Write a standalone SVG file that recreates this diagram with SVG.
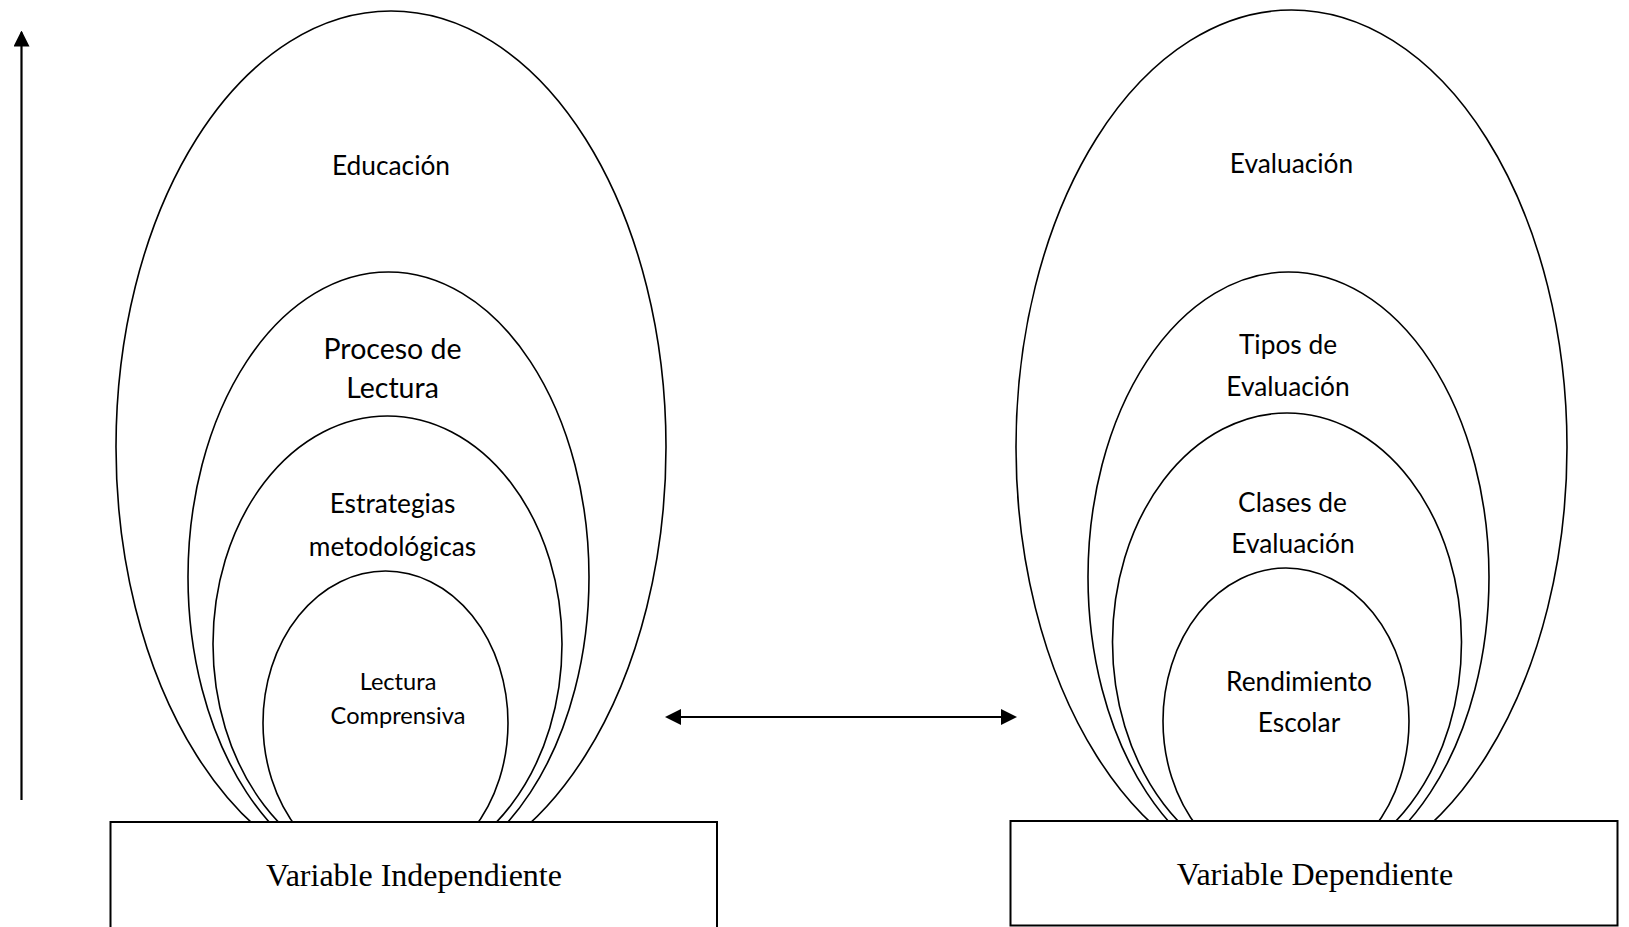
<svg xmlns="http://www.w3.org/2000/svg" width="1629" height="927" viewBox="0 0 1629 927">
<style>
.ring{fill:none;stroke:#000;stroke-width:1.6}
.box{fill:#fff;stroke:#000;stroke-width:2}
.lbl{font-family:Lato,"Open Sans",sans-serif;text-anchor:middle;fill:#000}
.btxt{font-family:"Liberation Serif","Times New Roman",serif;font-size:32px;text-anchor:middle;fill:#000}
.conn{stroke:#000;stroke-width:2.2;fill:none}
</style>
<defs>
<marker id="ah" viewBox="0 0 16 16" refX="14" refY="8" markerWidth="16" markerHeight="16" markerUnits="userSpaceOnUse" orient="auto-start-reverse">
<path d="M0,0 L16,8 L0,16 z" fill="#000"/>
</marker>
</defs>
<rect width="1629" height="927" fill="#fff"/>

<g id="educacion">
<ellipse class="ring" cx="391" cy="447" rx="275" ry="436"/>
<text class="lbl" x="391" y="175" font-size="26.3">Educación</text>
</g>
<g id="proceso-lectura">
<ellipse class="ring" cx="388.5" cy="577" rx="200.5" ry="305"/>
<text class="lbl" x="392.5" y="359" font-size="28.5">Proceso de</text>
<text class="lbl" x="392.5" y="398" font-size="28.5">Lectura</text>
</g>
<g id="estrategias">
<ellipse class="ring" cx="387.5" cy="644" rx="174.5" ry="228"/>
<text class="lbl" x="392.5" y="513" font-size="26.3">Estrategias</text>
<text class="lbl" x="392.5" y="556" font-size="26.3">metodológicas</text>
</g>
<g id="lectura-comprensiva">
<ellipse class="ring" cx="385.5" cy="723" rx="122.5" ry="152"/>
<text class="lbl" x="398" y="690" font-size="23.6">Lectura</text>
<text class="lbl" x="398" y="724" font-size="23.6">Comprensiva</text>
</g>
<g id="variable-independiente">
<rect class="box" x="110.5" y="822" width="606.5" height="120"/>
<text class="btxt" x="414" y="886">Variable Independiente</text>
</g>

<g id="evaluacion">
<ellipse class="ring" cx="1291.5" cy="447" rx="275.5" ry="437"/>
<text class="lbl" x="1291.5" y="173" font-size="26.3">Evaluación</text>
</g>
<g id="tipos-evaluacion">
<ellipse class="ring" cx="1288.5" cy="577" rx="200.5" ry="305"/>
<text class="lbl" x="1288" y="354" font-size="26.3">Tipos de</text>
<text class="lbl" x="1288" y="396" font-size="26.3">Evaluación</text>
</g>
<g id="clases-evaluacion">
<ellipse class="ring" cx="1287" cy="642" rx="174.5" ry="229"/>
<text class="lbl" x="1292.5" y="512" font-size="26.3">Clases de</text>
<text class="lbl" x="1293" y="553" font-size="26.3">Evaluación</text>
</g>
<g id="rendimiento-escolar">
<ellipse class="ring" cx="1286" cy="721" rx="123" ry="153"/>
<text class="lbl" x="1299" y="691" font-size="26.3">Rendimiento</text>
<text class="lbl" x="1299" y="732" font-size="26.3">Escolar</text>
</g>
<g id="variable-dependiente">
<rect class="box" x="1010.5" y="821" width="607" height="104.5"/>
<text class="btxt" x="1315" y="885">Variable Dependiente</text>
</g>

<g id="connectors">
<line class="conn" x1="21.5" y1="800" x2="21.5" y2="32.5" marker-end="url(#ah)"/>
<line class="conn" x1="667" y1="717" x2="1015" y2="717" marker-start="url(#ah)" marker-end="url(#ah)"/>
</g>
</svg>
